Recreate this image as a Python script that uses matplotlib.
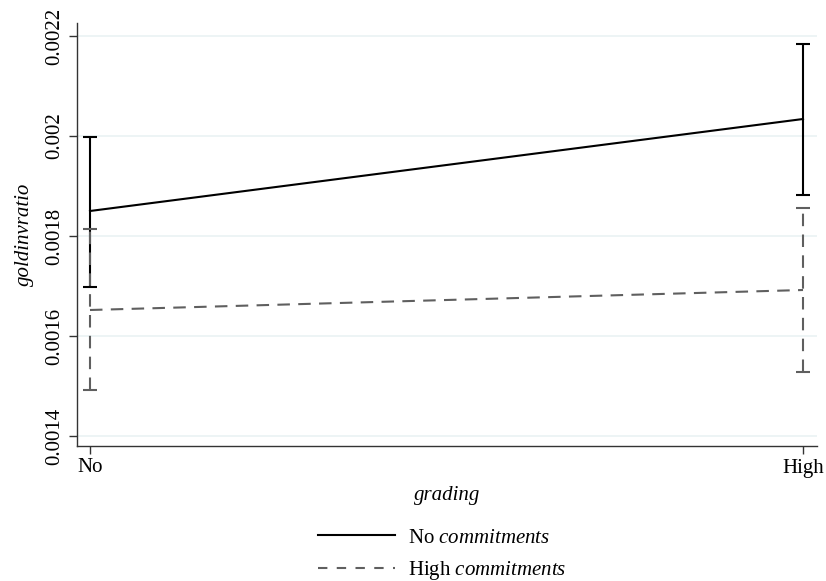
import matplotlib
matplotlib.use("Agg")
import matplotlib.pyplot as plt

# Predicted goldinvratio by grading level, split by commitments group
grading = ["No", "High"]
no_commit_mean = [0.00185, 0.002034]
no_commit_lo = [0.001698, 0.001882]
no_commit_hi = [0.001999, 0.002184]
high_commit_mean = [0.001652, 0.001692]
high_commit_lo = [0.001492, 0.001528]
high_commit_hi = [0.001814, 0.001857]
yticks = [0.0014, 0.0016, 0.0018, 0.002, 0.0022]
ytick_labels = ["0.0014", "0.0016", "0.0018", "0.002", "0.0022"]

plt.rcParams["font.family"] = ["Liberation Serif", "DejaVu Serif"]
plt.rcParams["mathtext.fontset"] = "custom"
plt.rcParams["mathtext.rm"] = "Liberation Serif"
plt.rcParams["mathtext.it"] = "Liberation Serif:italic"

FS = 15
GRID = "#eaf2f3"
SOLID = "black"
DASHED = "#5f5f5f"

fig = plt.figure(figsize=(8.26, 5.81), dpi=100)
ax = fig.add_axes([77 / 826, 1 - 446 / 581, 740 / 826, 423 / 581])

x = list(range(len(grading)))


def _draw(mean, lo, hi, color, ls, label):
    err = [[m - l for m, l in zip(mean, lo)], [h - m for m, h in zip(mean, hi)]]
    line, caps, bars = ax.errorbar(
        x, mean, yerr=err, color=color, linestyle=ls, linewidth=1.5,
        elinewidth=1.5, capsize=5, capthick=1.5, label=label, zorder=3,
    )
    if ls != "-":
        line.set_dashes((6, 4))
        for b in bars:
            b.set_linestyle((0, (6, 4)))
    return line


_draw(no_commit_mean, no_commit_lo, no_commit_hi, SOLID, "-", r"No $\it{commitments}$")
_draw(high_commit_mean, high_commit_lo, high_commit_hi, DASHED, "--", r"High $\it{commitments}$")

ax.set_xlim(-0.0182, 1.0196)
ax.set_ylim(0.00138, 0.002226)
ax.set_xticks(x)
ax.set_xticklabels(grading, fontsize=FS)
ax.set_yticks(yticks)
ax.set_yticklabels(ytick_labels, fontsize=FS, rotation=90, va="center")
ax.tick_params(axis="both", direction="out", length=6, width=1, color="#333333", pad=3)
ax.grid(True, axis="y", color=GRID, linewidth=1.2, zorder=0)
ax.set_axisbelow(True)

for side in ("top", "right"):
    ax.spines[side].set_visible(False)
for side in ("left", "bottom"):
    ax.spines[side].set_color("#333333")
    ax.spines[side].set_linewidth(1)

ax.set_xlabel("grading", fontsize=FS, style="italic", labelpad=6)
ax.set_ylabel("goldinvratio", fontsize=FS, style="italic", labelpad=8)

handles, labels = ax.get_legend_handles_labels()
handles = [h[0] for h in handles]
leg = fig.legend(
    handles, labels, loc="center", bbox_to_anchor=(442 / 826, 1 - 555 / 581),
    frameon=False, fontsize=FS, handlelength=3.7, handletextpad=0.6,
    labelspacing=0.55, borderpad=0,
)
# shorter dashes on the legend key
leg.get_lines()[1].set_dashes((4.5, 4.5))

fig.savefig("out.png", dpi=100)
